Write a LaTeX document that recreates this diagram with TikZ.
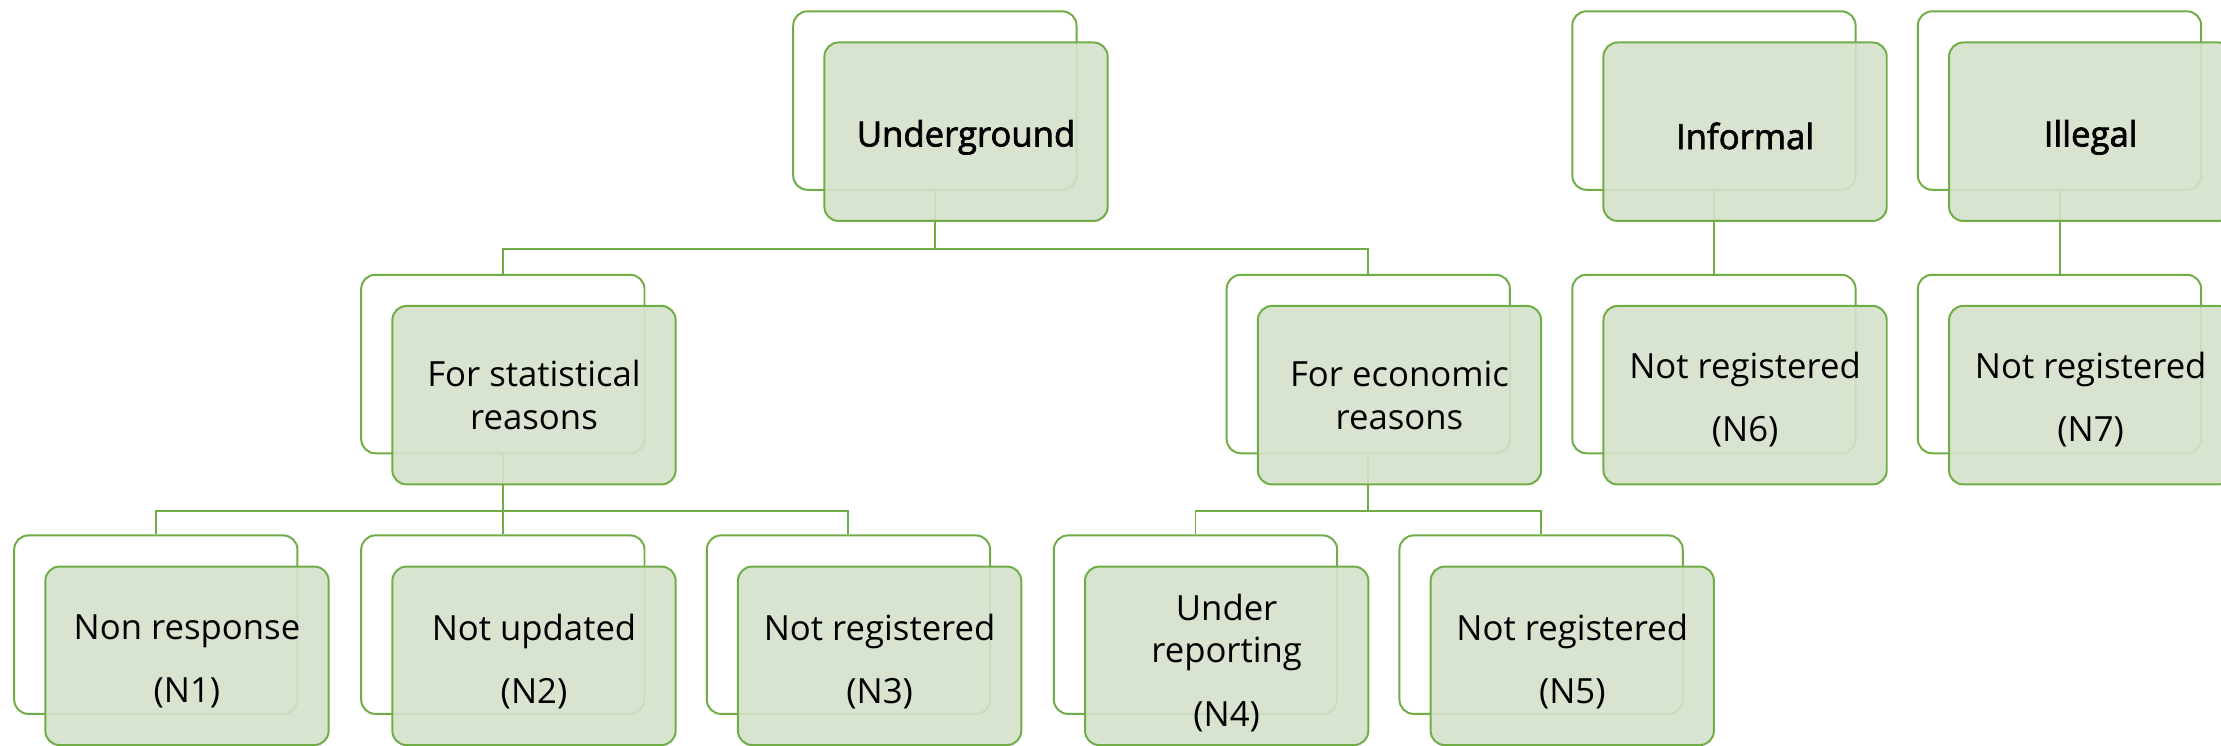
\documentclass[tikz,border=0pt]{standalone}
\usepackage{fontspec}
\setmainfont{Open Sans}
\newfontfamily\headfont{Open Sans}[FakeBold=2]
\usepackage{tikz}
\usetikzlibrary{shapes,arrows}

\definecolor{leafgreen}{RGB}{112,173,71}
\definecolor{leaffill}{RGB}{212,225,203}

\tikzset{
  backbox/.style={draw=leafgreen, line width=1.4pt, fill=white, rounded corners=10pt,
    minimum width=200pt, minimum height=126pt, inner sep=0pt},
  frontbox/.style={backbox, fill=leaffill, fill opacity=0.9},
  boxtext/.style={align=center, inner sep=0pt, font=\fontsize{24.5}{30}\selectfont},
  headtext/.style={inner sep=0pt, font=\fontsize{24.5}{30}\headfont},
  link/.style={draw=leafgreen, line width=1.4pt}
}

\begin{document}
\begin{tikzpicture}[x=1pt,y=1pt,yscale=-1,xscale=1]
\useasboundingbox (0,0) rectangle (1568,526);

%Back boxes, top row
\node[backbox] (ug) at (660,71) {};
\node[backbox] (inf) at (1210,71) {};
\node[backbox] (ill) at (1454,71) {};
%Back boxes, middle row
\node[backbox] (stat) at (355,257) {};
\node[backbox] (econ) at (966,257) {};
\node[backbox] (infnr) at (1210,257) {};
\node[backbox] (illnr) at (1454,257) {};
%Back boxes, bottom row
\node[backbox] (nonresp) at (110,441) {};
\node[backbox] (notupd) at (355,441) {};
\node[backbox] (statnr) at (599,441) {};
\node[backbox] (underrep) at (844,441) {};
\node[backbox] (econnr) at (1088,441) {};

%Connectors
\draw[link] (ug.south) -- ++(0,41) -| (stat.north);
\draw[link] (ug.south) -- ++(0,41) -| (econ.north);
\draw[link] (stat.south) -- ++(0,40) -| (nonresp.north);
\draw[link] (stat.south) -- (notupd.north);
\draw[link] (stat.south) -- ++(0,40) -| (statnr.north);
\draw[link] (econ.south) -- ++(0,40) -| (underrep.north);
\draw[link] (econ.south) -- ++(0,40) -| (econnr.north);
\draw[link] (inf.south) -- (infnr.north);
\draw[link] (ill.south) -- (illnr.north);

%Front boxes
\node[frontbox] (ug-f) at (682,93) {};
\node[frontbox] (inf-f) at (1232,93) {};
\node[frontbox] (ill-f) at (1476,93) {};
\node[frontbox] (stat-f) at (377,279) {};
\node[frontbox] (econ-f) at (988,279) {};
\node[frontbox] (infnr-f) at (1232,279) {};
\node[frontbox] (illnr-f) at (1476,279) {};
\node[frontbox] (nonresp-f) at (132,463) {};
\node[frontbox] (notupd-f) at (377,463) {};
\node[frontbox] (statnr-f) at (621,463) {};
\node[frontbox] (underrep-f) at (866,463) {};
\node[frontbox] (econnr-f) at (1110,463) {};

% Text Node
\node[headtext] (ug-l) at ([yshift=4pt]ug-f.center) {Underground};
% Text Node
\node[headtext] (inf-l) at ([yshift=3pt]inf-f.center) {Informal};
% Text Node
\node[headtext] (ill-l) at ([yshift=4pt]ill-f.center) {Illegal};
% Text Node
\node[boxtext] (stat-l) at (stat-f.center) {For statistical\\reasons};
% Text Node
\node[boxtext] (econ-l) at (econ-f.center) {For economic\\reasons};
% Text Node
\node[boxtext] (infnr-l) at ([yshift=3pt]infnr-f.center) {Not registered\\[15pt](N6)};
% Text Node
\node[boxtext] (illnr-l) at ([yshift=3pt]illnr-f.center) {Not registered\\[15pt](N7)};
% Text Node
\node[boxtext] (nonresp-l) at ([yshift=4pt]nonresp-f.center) {Non response\\[15pt](N1)};
% Text Node
\node[boxtext] (notupd-l) at ([yshift=4pt]notupd-f.center) {Not updated\\[15pt](N2)};
% Text Node
\node[boxtext] (statnr-l) at ([yshift=4pt]statnr-f.center) {Not registered\\[15pt](N3)};
% Text Node
\node[boxtext] (underrep-l) at ([yshift=5pt]underrep-f.center) {Under\\reporting\\[15pt](N4)};
% Text Node
\node[boxtext] (econnr-l) at ([yshift=4pt]econnr-f.center) {Not registered\\[15pt](N5)};

\end{tikzpicture}
\end{document}
